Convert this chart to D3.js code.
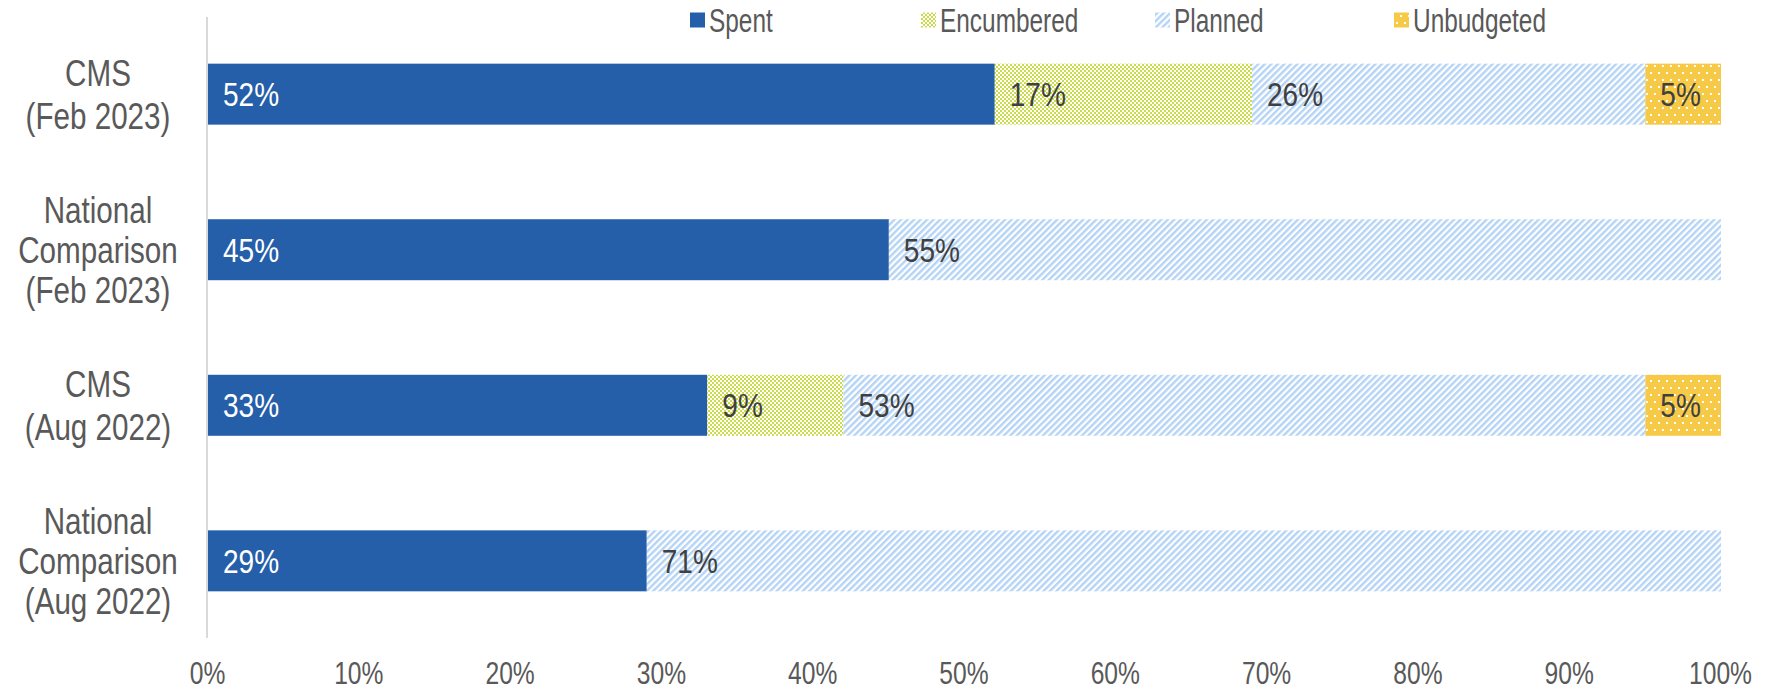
<!DOCTYPE html>
<html>
<head>
<meta charset="utf-8">
<script src="https://cdn.jsdelivr.net/npm/d3@7"></script>
<style>
  body { margin: 0; background: #fff; }
  svg text { font-family: "Liberation Sans", Arial, sans-serif; }
</style>
</head>
<body>
<div class="chart"></div>
<script>
// data
var categories = [
  ["CMS", "(Feb 2023)"],
  ["National", "Comparison", "(Feb 2023)"],
  ["CMS", "(Aug 2022)"],
  ["National", "Comparison", "(Aug 2022)"]
];
var seriesNames = ["Spent", "Encumbered", "Planned", "Unbudgeted"];
var spent      = [52, 45, 33, 29];
var encumbered = [17, 0, 9, 0];
var planned    = [26, 55, 53, 71];
var unbudgeted = [5, 0, 5, 0];
var xTicks = [0, 10, 20, 30, 40, 50, 60, 70, 80, 90, 100];

var width = 1768, height = 692;
var margin = {top: 17, right: 48, bottom: 54, left: 207};

// the original uses a condensed face; squeeze Liberation Sans horizontally
var narrow = function(k) { return "scale(" + k + ",1)"; };

var svg = d3.select(".chart")
  .append("svg")
    .attr("width", width)
    .attr("height", height);

// patterns
var defs = svg.append("defs");

var pEnc = defs.append("pattern")
  .attr("id", "pat-enc").attr("patternUnits", "userSpaceOnUse")
  .attr("width", 4).attr("height", 4);
pEnc.append("rect").attr("width", 4).attr("height", 4).attr("fill", "#cadc4a");
pEnc.append("rect").attr("x", 0).attr("y", 0).attr("width", 2).attr("height", 2).attr("fill", "#fff");
pEnc.append("rect").attr("x", 2).attr("y", 2).attr("width", 2).attr("height", 2).attr("fill", "#fff");

var pPlan = defs.append("pattern")
  .attr("id", "pat-plan").attr("patternUnits", "userSpaceOnUse")
  .attr("width", 4.6).attr("height", 10)
  .attr("patternTransform", "rotate(45)");
pPlan.append("rect").attr("width", 4.6).attr("height", 10).attr("fill", "#fff");
pPlan.append("rect").attr("width", 2.4).attr("height", 10).attr("fill", "#b5d4f5");

var pUnb = defs.append("pattern")
  .attr("id", "pat-unb").attr("patternUnits", "userSpaceOnUse")
  .attr("width", 8).attr("height", 14);
pUnb.append("rect").attr("width", 8).attr("height", 14).attr("fill", "#f6c946");
pUnb.append("rect").attr("x", 2).attr("y", 2).attr("width", 2).attr("height", 2).attr("fill", "#fff");
pUnb.append("rect").attr("x", 6).attr("y", 9).attr("width", 2).attr("height", 2).attr("fill", "#fff");

var fills = ["#255ea9", "url(#pat-enc)", "url(#pat-plan)", "url(#pat-unb)"];
var labelColors = ["#ffffff", "#404040", "#404040", "#404040"];

// build rows for stacking
var rows = categories.map(function(c, i) {
  return {idx: i, Spent: spent[i], Encumbered: encumbered[i], Planned: planned[i], Unbudgeted: unbudgeted[i]};
});
var stacked = d3.stack().keys(seriesNames)(rows);

var x = d3.scaleLinear()
  .domain([0, 100])
  .range([margin.left, width - margin.right]);

var y = d3.scaleBand()
  .domain(d3.range(categories.length))
  .range([margin.top, height - margin.bottom])
  .paddingInner(0.608)
  .paddingOuter(0.3);

// x axis (labels only)
var xAxis = svg.append("g")
  .attr("transform", "translate(0," + (height - margin.bottom) + ")")
  .call(d3.axisBottom(x).tickValues(xTicks).tickFormat(function(d) { return d + "%"; }).tickSize(0).tickPadding(0));
xAxis.select(".domain").remove();
xAxis.selectAll("text")
  .attr("y", 46)
  .attr("dy", null)
  .attr("transform", narrow(0.77))
  .attr("fill", "#595959")
  .style("font-size", "32px");

// vertical axis line
svg.append("line")
  .attr("x1", x(0)).attr("x2", x(0))
  .attr("y1", margin.top).attr("y2", height - margin.bottom)
  .attr("stroke", "#d9d9d9")
  .attr("stroke-width", 2);

// bars
var layers = svg.append("g")
  .selectAll("g")
  .data(stacked)
  .enter().append("g")
    .attr("fill", function(d, i) { return fills[i]; });

layers.selectAll("rect")
  .data(function(d) { return d; })
  .enter().append("rect")
    .attr("x", function(d) { return x(d[0]) + 1; })
    .attr("y", function(d) { return y(d.data.idx); })
    .attr("width", function(d) { return Math.max(0, x(d[1]) - x(d[0])); })
    .attr("height", y.bandwidth());

// data labels
layers.each(function(layer, li) {
  d3.select(this).selectAll("text")
    .data(layer.filter(function(d) { return d[1] - d[0] > 0; }))
    .enter().append("text")
      .attr("text-anchor", function(d) { return (x(d[1]) - x(d[0])) < 70 ? "middle" : "start"; })
      .attr("transform", function(d) {
        var w = x(d[1]) - x(d[0]);
        var tx = w < 70 ? (x(d[0]) + x(d[1])) / 2 + 1 : x(d[0]) + 16;
        var ty = y(d.data.idx) + y.bandwidth() / 2;
        return "translate(" + tx + "," + ty + ") " + narrow(0.85);
      })
      .attr("dy", "0.36em")
      .attr("fill", labelColors[li])
      .style("font-size", "33px")
      .text(function(d) { return (d[1] - d[0]) + "%"; });
});

// category labels
svg.append("g").selectAll("text")
  .data(categories)
  .enter().append("text")
    .attr("text-anchor", "middle")
    .attr("fill", "#595959")
    .style("font-size", "37px")
    .each(function(lines, i) {
      var lineH = lines.length > 2 ? 40 : 43;
      var cy = y(i) + y.bandwidth() / 2;
      var t0 = cy - (lines.length - 1) * lineH / 2;
      d3.select(this)
        .attr("transform", "translate(98,0) " + narrow(0.8));
      d3.select(this).selectAll("tspan")
        .data(lines)
        .enter().append("tspan")
          .attr("x", 0)
          .attr("y", function(l, j) { return t0 + j * lineH; })
          .attr("dy", "0.36em")
          .text(function(l) { return l; });
    });

// legend
var legendX = [690, 921, 1155, 1394];
var legend = svg.append("g").selectAll("g")
  .data(seriesNames)
  .enter().append("g")
    .attr("transform", function(d, i) { return "translate(" + legendX[i] + ",20)"; });
legend.append("rect")
  .attr("x", 0).attr("y", -7.5)
  .attr("width", 15).attr("height", 15)
  .attr("fill", function(d, i) { return fills[i]; });
legend.append("text")
  .attr("transform", "translate(19,0) " + narrow(0.74))
  .attr("dy", "0.36em")
  .attr("fill", "#595959")
  .style("font-size", "33px")
  .text(function(d) { return d; });
</script>
</body>
</html>
